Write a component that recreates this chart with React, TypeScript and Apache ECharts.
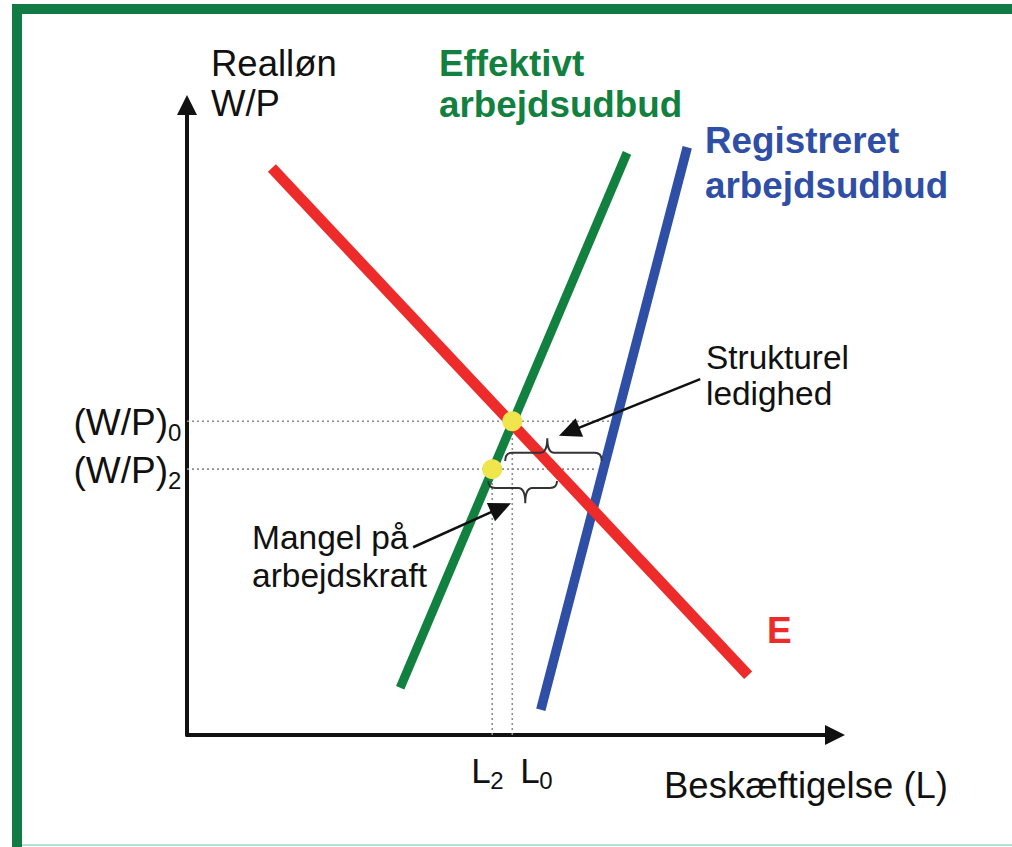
import React, { useEffect, useRef } from "react";
import * as echarts from "echarts";

const FONT = '"Liberation Sans", Arial, Helvetica, sans-serif';

// Curves (two end points each, in chart units: x 0..100, y 0..100)
const curveE = [[13.1, 90.0], [86.6, 9.5]];
const curveEffective = [[32.9, 7.5], [67.9, 92.4]];
const curveRegistered = [[54.6, 4.0], [77.2, 93.3]];

// Equilibrium points
const equilibria = [[50.2, 49.8], [47.1, 42.2]];

// Tick labels
const yTickValues = [49.8, 42.2];
const yTickMain = ["(W/P)", "(W/P)"];
const yTickSub = ["0", "2"];
const xTickValues = [47.1, 50.2];
const xTickMain = ["L", "L"];
const xTickSub = ["2", "0"];

// Dotted guide lines
const guideHorizontal = [
  [[0, 49.8], [65.6, 49.8]],
  [[0, 42.2], [63.3, 42.2]],
];
const guideVertical = [
  [[47.1, 0], [47.1, 42.2]],
  [[50.2, 0], [50.2, 49.8]],
];

// Braces: [xStart, xEnd, xTip, yBase, yEnds, yTip]
const braces = [
  [49.1, 64.0, 55.6, 44.8, 43.5, 47.1],
  [46.5, 57.1, 52.2, 39.2, 40.3, 36.8],
];

// Annotation arrows: [xFrom, yFrom, xTo, yTo]
const arrows = [
  [79.2, 56.5, 57.4, 47.5],
  [34.9, 29.8, 50.0, 36.8],
];

const RED = "#ee2b2b";
const GREEN = "#12803f";
const BLUE = "#2f4ea6";
const INK = "#111111";

function txt(text: string, x: number, y: number, opts: any = {}) {
  return {
    type: "text",
    x,
    y,
    style: {
      text,
      fill: opts.fill || INK,
      fontSize: opts.fontSize || 33,
      fontFamily: FONT,
      fontWeight: opts.fontWeight || "normal",
      align: "left",
      verticalAlign: "middle",
    },
  };
}

export default function App() {
  const ref = useRef<HTMLDivElement>(null);

  useEffect(() => {
    if (!ref.current) return;
    const chart = echarts.init(ref.current, null, { renderer: "svg" });

    const axisCommon = {
      type: "value",
      min: 0,
      max: 100,
      splitLine: { show: false },
      axisTick: { show: false },
      axisLabel: { show: false },
      axisLine: {
        show: true,
        symbol: ["none", "triangle"],
        symbolSize: [20, 20],
        lineStyle: { color: INK, width: 4 },
      },
    };

    const guideSeries = [...guideHorizontal, ...guideVertical].map((g) => ({
      type: "line",
      data: g,
      symbol: "none",
      silent: true,
      z: 1,
      lineStyle: { color: "#8c8c8c", width: 1.6, type: [2, 3] },
    }));

    const curve = (data: number[][], color: string, width: number) => ({
      type: "line",
      data,
      symbol: "none",
      z: 3,
      lineStyle: { color, width, cap: "butt" },
    });

    const option: any = {
      animation: false,
      backgroundColor: "#ffffff",
      grid: { left: 187, top: 105, width: 648, height: 630, containLabel: false },
      xAxis: { ...axisCommon },
      yAxis: { ...axisCommon },
      series: [
        ...guideSeries,
        curve(curveEffective, GREEN, 9),
        curve(curveRegistered, BLUE, 9.5),
        curve(curveE, RED, 11),
        {
          type: "scatter",
          data: equilibria,
          symbol: "circle",
          symbolSize: 20,
          z: 5,
          itemStyle: { color: "#f0e54c", opacity: 1 },
        },
        {
          type: "custom",
          data: braces,
          z: 6,
          renderItem: (_p: any, api: any) => {
            const X1 = api.coord([api.value(0), 0])[0];
            const X2 = api.coord([api.value(1), 0])[0];
            const Xt = api.coord([api.value(2), 0])[0];
            const Yb = api.coord([0, api.value(3)])[1];
            const Ye = api.coord([0, api.value(4)])[1];
            const Yt = api.coord([0, api.value(5)])[1];
            const r = 7;
            const d =
              `M${X1},${Ye} Q${X1},${Yb} ${X1 + r},${Yb} L${Xt - r},${Yb} ` +
              `Q${Xt},${Yb} ${Xt},${Yt} Q${Xt},${Yb} ${Xt + r},${Yb} ` +
              `L${X2 - r},${Yb} Q${X2},${Yb} ${X2},${Ye}`;
            return {
              type: "path",
              shape: { pathData: d },
              style: { fill: "none", stroke: "#333333", lineWidth: 2 },
            };
          },
        },
        {
          type: "custom",
          data: arrows,
          z: 6,
          renderItem: (_p: any, api: any) => {
            const S = api.coord([api.value(0), api.value(1)]);
            const T = api.coord([api.value(2), api.value(3)]);
            const dx = T[0] - S[0];
            const dy = T[1] - S[1];
            const len = Math.sqrt(dx * dx + dy * dy);
            const ux = dx / len;
            const uy = dy / len;
            const head = 22;
            const half = 10;
            const B = [T[0] - ux * head, T[1] - uy * head];
            return {
              type: "group",
              children: [
                {
                  type: "line",
                  shape: { x1: S[0], y1: S[1], x2: B[0] + ux * 2, y2: B[1] + uy * 2 },
                  style: { stroke: INK, lineWidth: 2.5 },
                },
                {
                  type: "polygon",
                  shape: {
                    points: [
                      [T[0], T[1]],
                      [B[0] - uy * half, B[1] + ux * half],
                      [B[0] + uy * half, B[1] - ux * half],
                    ],
                  },
                  style: { fill: INK },
                },
              ],
            };
          },
        },
        {
          type: "custom",
          data: yTickValues.map((v, i) => [0, v, i]),
          z: 6,
          renderItem: (_p: any, api: any) => {
            const i = api.value(2);
            const P = api.coord([0, api.value(1)]);
            return {
              type: "group",
              children: [
                {
                  type: "text",
                  x: P[0] - 19,
                  y: P[1] + 1,
                  style: {
                    text: yTickMain[i],
                    fill: INK,
                    fontSize: 37,
                    fontFamily: FONT,
                    align: "right",
                    verticalAlign: "middle",
                  },
                },
                {
                  type: "text",
                  x: P[0] - 19,
                  y: P[1] + 11,
                  style: {
                    text: yTickSub[i],
                    fill: INK,
                    fontSize: 24,
                    fontFamily: FONT,
                    align: "left",
                    verticalAlign: "middle",
                  },
                },
              ],
            };
          },
        },
        {
          type: "custom",
          data: xTickValues.map((v, i) => [v, 0, i]),
          z: 6,
          renderItem: (_p: any, api: any) => {
            const i = api.value(2);
            const P = api.coord([api.value(0), 0]);
            const left = i === 0 ? P[0] - 21 : P[0] + 8;
            return {
              type: "group",
              children: [
                {
                  type: "text",
                  x: left,
                  y: P[1] + 35,
                  style: {
                    text: xTickMain[i],
                    fill: INK,
                    fontSize: 35,
                    fontFamily: FONT,
                    align: "left",
                    verticalAlign: "middle",
                  },
                },
                {
                  type: "text",
                  x: left + 19,
                  y: P[1] + 45,
                  style: {
                    text: xTickSub[i],
                    fill: INK,
                    fontSize: 24,
                    fontFamily: FONT,
                    align: "left",
                    verticalAlign: "middle",
                  },
                },
              ],
            };
          },
        },
      ],
      graphic: [
        { type: "rect", shape: { x: 12, y: 4, width: 1000, height: 10 }, style: { fill: "#127b45" }, z: 10 },
        { type: "rect", shape: { x: 12, y: 4, width: 10, height: 843 }, style: { fill: "#127b45" }, z: 10 },
        { type: "rect", shape: { x: 22, y: 844, width: 990, height: 2 }, style: { fill: "#b5e0cf" }, z: 10 },
        txt("Realløn", 211, 63, { fontSize: 36.5 }),
        txt("W/P", 211, 103, { fontSize: 36.5 }),
        txt("Effektivt", 439, 63, { fill: GREEN, fontWeight: "bold", fontSize: 36.8 }),
        txt("arbejdsudbud", 439, 104, { fill: GREEN, fontWeight: "bold", fontSize: 36.8 }),
        txt("Registreret", 705, 140, { fill: BLUE, fontWeight: "bold", fontSize: 36.8 }),
        txt("arbejdsudbud", 705, 185, { fill: BLUE, fontWeight: "bold", fontSize: 36.8 }),
        txt("E", 767, 630, { fill: RED, fontWeight: "bold", fontSize: 37 }),
        txt("Strukturel", 706, 357, { fontSize: 33.4 }),
        txt("ledighed", 706, 393, { fontSize: 33.4 }),
        txt("Mangel på", 252, 537, { fontSize: 33.5 }),
        txt("arbejdskraft", 252, 575, { fontSize: 33.5 }),
        txt("Beskæftigelse (L)", 664, 785, { fontSize: 36.5 }),
      ],
    };

    chart.setOption(option);
    return () => chart.dispose();
  }, []);

  return (
    <div
      ref={ref}
      style={{ position: "absolute", left: 0, top: 0, width: 1012, height: 847, background: "#fff" }}
    />
  );
}
